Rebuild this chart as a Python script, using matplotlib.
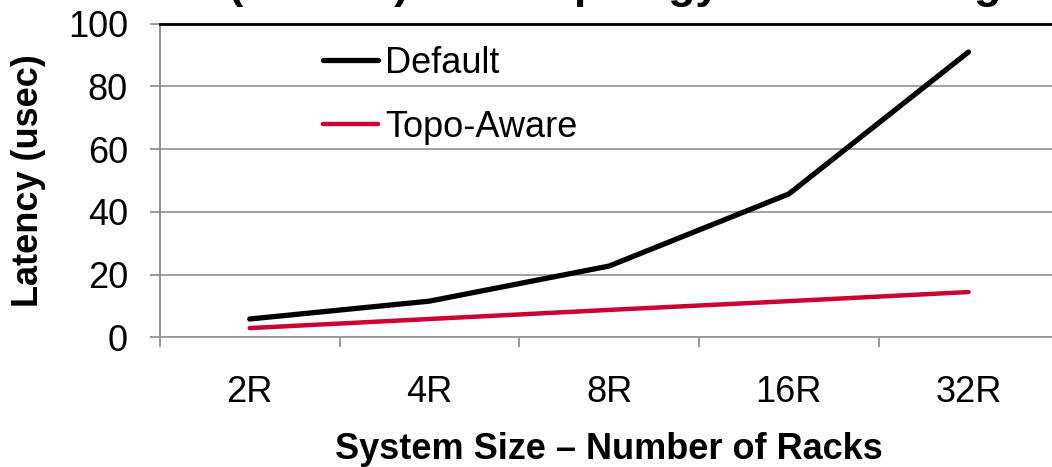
import matplotlib.pyplot as plt

plt.rcParams['font.family'] = ['Liberation Sans', 'DejaVu Sans']

# datos
racks = ["2R", "4R", "8R", "16R", "32R"]
lat_default = [5.8, 11.5, 22.7, 45.7, 91.0]
lat_topo = [2.9, 5.8, 8.7, 11.5, 14.4]

fig = plt.figure(figsize=(10.52, 4.67), dpi=100)
ax = fig.add_axes([0.152, 0.278, 0.854, 0.671])

x = list(range(len(racks)))
ax.plot(x, lat_default, color="black", lw=3.8, label="Default", solid_capstyle="round")
ax.plot(x, lat_topo, color="#CC0033", lw=3.2, label="Topo-Aware", solid_capstyle="round")

ax.set_xlim(-0.5, len(racks) - 0.5)
ax.set_ylim(0, 100)
ax.set_yticks(range(0, 101, 20))
ax.set_xticks(x)
ax.set_xticklabels(racks)
ax.set_xticks([i - 0.5 for i in range(len(racks) + 1)], minor=True)
ax.tick_params(axis="x", which="major", length=0, pad=27, labelsize=26)
ax.tick_params(axis="x", which="minor", length=7, width=1.2, color="#888888")
ax.tick_params(axis="y", length=7, width=1.2, color="#888888", labelsize=26, pad=16)

ax.grid(axis="y", color="#999999", lw=1.3)
ax.set_axisbelow(True)
ax.spines["right"].set_visible(False)
ax.spines["top"].set_color("black")
ax.spines["top"].set_linewidth(2)
ax.spines["left"].set_color("#888888")
ax.spines["left"].set_linewidth(1.3)
ax.spines["bottom"].set_color("#999999")
ax.spines["bottom"].set_linewidth(1.3)

ax.set_xlabel("System Size \u2013 Number of Racks", fontsize=26, fontweight="bold", labelpad=16)
ax.set_ylabel("Latency (usec)", fontsize=26, fontweight="bold", labelpad=16)

ax.legend(loc="upper left", bbox_to_anchor=(0.1815, 0.93), frameon=False, fontsize=26,
          handlelength=1.53, handletextpad=0.2, labelspacing=0.8, borderaxespad=0,
          borderpad=0)

# titulo recortado en la parte superior
fig.text(0.09, 1.0 + 2 / 467, "Bcast (512 KB) with Topology-Aware Design", ha="left", va="baseline",
         fontsize=32, fontweight="bold")

fig.savefig("out.png", dpi=100)
